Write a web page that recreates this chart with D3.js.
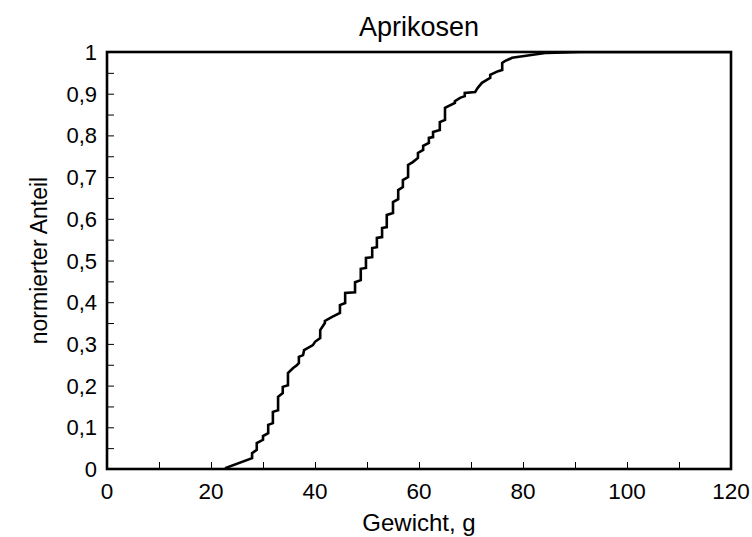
<!DOCTYPE html>
<html><head><meta charset="utf-8">
<script src="https://cdn.jsdelivr.net/npm/d3@7/dist/d3.min.js"></script>
<style>body{margin:0;background:#fff}svg{display:block}text{font-family:"Liberation Sans",Arial,sans-serif;fill:#000}</style>
</head><body><svg id="c" width="752" height="537"></svg>
<script>
// Empirical cumulative curve: weight (g) and normalised share
const weight = [22.7,27.9,27.9,28.8,28.8,30.0,30.0,31.0,31.0,31.9,31.9,32.9,32.9,33.8,33.8,34.8,34.8,35.8,36.5,36.9,36.9,37.7,37.9,39.6,40.0,41.0,41.0,41.9,41.9,43.3,44.8,44.8,45.8,45.8,47.7,47.7,48.8,48.8,49.8,49.8,51.0,51.0,51.9,51.9,52.9,52.9,53.8,53.8,55.0,55.0,56.0,56.0,56.9,56.9,57.9,57.9,58.8,59.8,59.8,60.8,60.8,61.9,61.9,62.7,62.7,64.0,64.0,65.0,65.0,66.9,66.9,67.9,68.8,68.8,70.8,71.3,72.1,73.7,73.7,75.2,76.0,76.0,76.5,77.9,84.6,91.0,120];
const share  = [0.002,0.026,0.038,0.046,0.062,0.070,0.079,0.086,0.106,0.110,0.137,0.141,0.173,0.182,0.197,0.201,0.230,0.242,0.249,0.254,0.269,0.273,0.285,0.297,0.305,0.314,0.333,0.350,0.355,0.365,0.374,0.393,0.398,0.422,0.424,0.448,0.453,0.480,0.482,0.506,0.508,0.530,0.532,0.554,0.556,0.578,0.580,0.609,0.614,0.640,0.647,0.669,0.676,0.693,0.700,0.729,0.736,0.746,0.758,0.765,0.775,0.782,0.794,0.796,0.808,0.813,0.832,0.837,0.866,0.878,0.882,0.890,0.894,0.902,0.904,0.914,0.926,0.938,0.945,0.954,0.957,0.974,0.978,0.986,0.998,1.0,1.0];
const xTicks = [0,20,40,60,80,100,120];
const yTicks = [0,0.1,0.2,0.3,0.4,0.5,0.6,0.7,0.8,0.9,1];
const title = "Aprikosen", xTitle = "Gewicht, g", yTitle = "normierter Anteil";

const L=107,R=731,T=52,B=469;
const svg=d3.select("#c");
const x=d3.scaleLinear().domain([0,120]).range([L,R]);
const y=d3.scaleLinear().domain([0,1]).range([B,T]);
const fmt=d=>d3.format(".1~f")(d).replace(".",",");

// minor/major ticks (inside)
const gx=svg.append("g").attr("transform",`translate(0,${B})`)
  .call(d3.axisBottom(x).tickValues(d3.range(0,121,10)).tickSize(-7).tickFormat(""));
gx.select(".domain").remove();
gx.selectAll("line").attr("stroke","#000").attr("stroke-width",1);
const gy=svg.append("g").attr("transform",`translate(${L},0)`)
  .call(d3.axisLeft(y).tickValues(d3.range(0,21).map(i=>i/20)).tickSize(-7).tickFormat(""));
gy.select(".domain").remove();
gy.selectAll("line").attr("stroke","#000").attr("stroke-width",1);

// tick labels
svg.append("g").selectAll("text").data(xTicks).join("text")
  .attr("x",d=>x(d)).attr("y",B+30).attr("text-anchor","middle").attr("font-size",22.5).text(d=>d);
svg.append("g").selectAll("text").data(yTicks).join("text")
  .attr("x",L-10).attr("y",d=>y(d)+8).attr("text-anchor","end").attr("font-size",22).text(fmt);

// curve
svg.append("clipPath").attr("id","cp").append("rect").attr("x",L).attr("y",T).attr("width",R-L).attr("height",B-T);
svg.append("path").datum(weight.map((w,i)=>[w,share[i]]))
  .attr("clip-path","url(#cp)")
  .attr("fill","none").attr("stroke","#000").attr("stroke-width",2.6).attr("stroke-linejoin","miter")
  .attr("d",d3.line().x(d=>x(d[0])).y(d=>y(d[1])));

// frame
svg.append("rect").attr("x",L).attr("y",T).attr("width",R-L).attr("height",B-T)
  .attr("fill","none").attr("stroke","#000").attr("stroke-width",2.6);

svg.append("text").attr("x",(L+R)/2).attr("y",36).attr("text-anchor","middle").attr("font-size",27).text(title);
svg.append("text").attr("x",(L+R)/2).attr("y",531).attr("text-anchor","middle").attr("font-size",24).text(xTitle);
svg.append("text").attr("transform",`translate(47,${(T+B)/2}) rotate(-90)`).attr("text-anchor","middle").attr("font-size",23).text(yTitle);
</script></body></html>
